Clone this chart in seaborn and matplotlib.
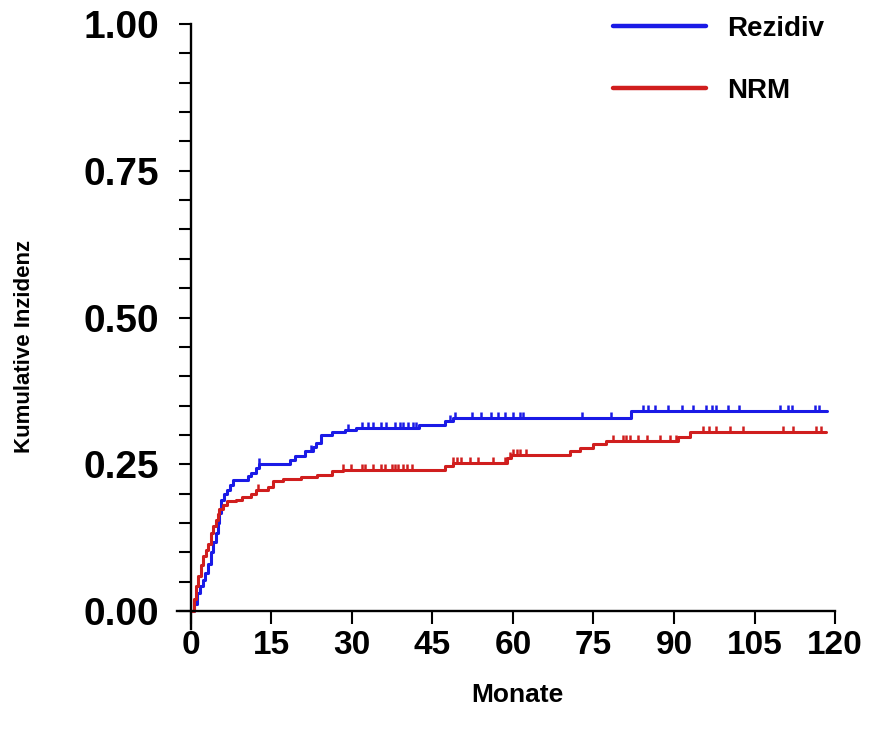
"""
Kumulative Inzidenz: Rezidiv vs. NRM (competing risks), Monate 0-120.
"""

import matplotlib
matplotlib.use("Agg")
import matplotlib.pyplot as plt
from matplotlib.ticker import MultipleLocator, FormatStrFormatter
import numpy as np
import pandas as pd
import seaborn as sns

# ── Data ──────────────────────────────────────────────────────────────────────

rez_time = [0, 0.6, 1.2, 1.7, 2.2, 2.7, 3.1, 3.7, 4.2, 4.7, 5.0, 5.3, 5.6, 6.2,
            6.8, 7.3, 7.8, 10.6, 11.2, 12.1, 12.6, 18.4, 19.4, 21.2, 22.7,
            23.3, 24.3, 26.2, 28.7, 30.8, 42.5, 47.3, 48.8, 81.9, 118.5]
rez_cif = [0, 0.012, 0.030, 0.042, 0.053, 0.065, 0.080, 0.100, 0.117, 0.133,
           0.150, 0.167, 0.190, 0.200, 0.207, 0.215, 0.224, 0.230, 0.236,
           0.244, 0.251, 0.258, 0.264, 0.272, 0.280, 0.287, 0.300, 0.305,
           0.309, 0.312, 0.317, 0.324, 0.329, 0.341, 0.341]
rez_censor = [12.7, 22.3, 29.3, 31.8, 33.0, 33.9, 35.5, 36.4, 38.0, 38.9, 39.5,
              40.5, 41.4, 42.0, 48.2, 49.2, 52.3, 54.1, 56.0, 57.2, 58.5, 60.0,
              61.3, 61.9, 72.8, 78.3, 84.2, 85.2, 86.4, 88.9, 91.4, 93.5, 96.0,
              97.0, 97.9, 100.1, 102.2, 109.7, 111.2, 111.9, 116.2, 117.1]

nrm_time = [0, 0.5, 0.9, 1.4, 1.9, 2.2, 2.8, 3.2, 3.7, 4.2, 4.65, 5.0, 5.3, 5.9,
            6.8, 8.4, 9.6, 11.2, 12.1, 14.3, 15.2, 17.1, 20.6, 23.4, 26.2,
            28.3, 47.3, 48.8, 58.8, 59.7, 70.6, 72.4, 74.9, 77.4, 90.8, 93.0,
            118.3]
nrm_cif = [0, 0.020, 0.042, 0.060, 0.078, 0.093, 0.104, 0.115, 0.133, 0.145,
           0.155, 0.165, 0.173, 0.181, 0.187, 0.190, 0.195, 0.200, 0.207,
           0.212, 0.221, 0.225, 0.229, 0.232, 0.238, 0.241, 0.247, 0.252,
           0.261, 0.266, 0.272, 0.278, 0.284, 0.289, 0.297, 0.305, 0.305]
nrm_censor = [12.5, 28.4, 29.9, 31.8, 32.4, 33.9, 35.5, 36.1, 37.4, 38.0, 38.6,
              39.5, 40.2, 41.1, 48.8, 49.5, 50.4, 52.0, 53.5, 56.3, 58.5, 59.4,
              60.0, 60.7, 61.3, 62.5, 78.6, 80.5, 81.1, 81.8, 83.3, 84.9, 87.3,
              89.2, 90.4, 95.4, 96.6, 97.9, 100.4, 102.8, 110.3, 112.2, 116.5,
              117.4]

labels = ["Rezidiv", "NRM"]
colors = ["#1a1ae6", "#d01e1e"]
x_ticks = [0, 15, 30, 45, 60, 75, 90, 105, 120]
y_ticks = [0.0, 0.25, 0.50, 0.75, 1.0]

sns.set_style("ticks")
plt.rcParams["font.family"] = ["Liberation Sans", "DejaVu Sans"]
plt.rcParams["text.color"] = "black"
plt.rcParams["xtick.color"] = "black"
plt.rcParams["ytick.color"] = "black"
plt.rcParams["axes.labelcolor"] = "black"


def step_at(times, vals, t):
    idx = np.searchsorted(np.asarray(times), np.asarray(t), side="right") - 1
    return np.asarray(vals)[idx]


fig = plt.figure(figsize=(8.7, 7.37), dpi=100)
ax = fig.add_axes([0.2034, 0.147, 0.7564, 0.8204])

series = [
    (rez_time, rez_cif, rez_censor),
    (nrm_time, nrm_cif, nrm_censor),
]
for (t, v, cens), lab, col in zip(series, labels, colors):
    df = pd.DataFrame({"Monate": t, "CIF": v})
    sns.lineplot(data=df, x="Monate", y="CIF", ax=ax, color=col, lw=2.2,
                 drawstyle="steps-post", estimator=None, label=lab)
    ax.plot(cens, step_at(t, v, cens), ls="none", marker=2, ms=4,
            mew=1.8, color=col)

# ── Axes styling ──────────────────────────────────────────────────────────────
ax.set_xlim(-2.6, 120)
ax.set_ylim(-0.03, 1.0)
ax.spines["left"].set_position(("data", 0))
ax.spines["bottom"].set_position(("data", 0))
for s in ["top", "right"]:
    ax.spines[s].set_visible(False)
for s in ["left", "bottom"]:
    ax.spines[s].set_linewidth(1.7)
    ax.spines[s].set_color("black")

ax.set_xticks(x_ticks)
ax.set_yticks(y_ticks)
ax.yaxis.set_minor_locator(MultipleLocator(0.05))
ax.yaxis.set_major_formatter(FormatStrFormatter("%.2f"))
ax.tick_params(axis="y", which="both", direction="out", length=9, width=1.5,
               color="black", pad=14)
ax.tick_params(axis="x", which="both", direction="out", length=9, width=1.5,
               color="black", pad=5)
for lab in ax.get_yticklabels():
    lab.set_fontsize(28)
    lab.set_fontweight("bold")
for lab in ax.get_xticklabels():
    lab.set_fontsize(24)
    lab.set_fontweight("bold")

ax.set_xlabel("Monate", fontsize=19, fontweight="bold")
ax.set_ylabel("Kumulative Inzidenz", fontsize=16, fontweight="bold")
ax.xaxis.set_label_coords(0.517, -0.09)
ax.yaxis.set_label_coords(-0.216, 0.467)

leg = ax.legend(loc="upper left", bbox_to_anchor=(613 / 870, 1 - 16 / 737),
                bbox_transform=fig.transFigure, frameon=False,
                prop={"size": 20, "weight": "bold"}, handlelength=3.35,
                handletextpad=0.75, labelspacing=1.3, borderpad=0,
                borderaxespad=0)
for h in leg.get_lines():
    h.set_linewidth(3.2)

fig.savefig("out.png", dpi=100)
plt.close(fig)
